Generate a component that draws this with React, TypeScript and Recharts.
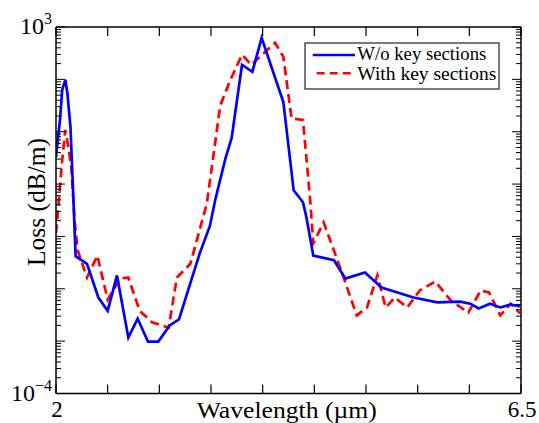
import { LineChart, Line, XAxis, YAxis } from 'recharts';

// wavelength (um) / loss (dB/m)
const blueX = [2.0, 2.04, 2.06, 2.09, 2.11, 2.14, 2.17, 2.19, 2.3, 2.41, 2.5, 2.59, 2.7, 2.79, 2.89, 2.99, 3.1, 3.19, 3.39, 3.49, 3.54, 3.64, 3.7, 3.8, 3.9, 3.99, 4.2, 4.3, 4.39, 4.42, 4.49, 4.69, 4.8, 4.99, 5.15, 5.46, 5.69, 5.91, 6.01, 6.09, 6.2, 6.3, 6.4, 6.49];
const blueY = [3.3, 18, 63, 98, 55, 12.3, 0.43, 0.042, 0.03, 0.0068, 0.0038, 0.018, 0.00117, 0.0027, 0.00098, 0.00098, 0.002, 0.0026, 0.047, 0.16, 0.49, 3.1, 7.6, 190, 139, 620, 37, 0.76, 0.45, 0.25, 0.043, 0.035, 0.0157, 0.0205, 0.0106, 0.0068, 0.0055, 0.0057, 0.0052, 0.0042, 0.0052, 0.0044, 0.005, 0.0046];

const redX = [2.0, 2.02, 2.06, 2.09, 2.12, 2.15, 2.18, 2.21, 2.3, 2.4, 2.5, 2.62, 2.7, 2.81, 2.93, 3.09, 3.17, 3.3, 3.46, 3.59, 3.68, 3.8, 3.89, 4.12, 4.2, 4.28, 4.39, 4.46, 4.49, 4.59, 4.77, 4.91, 5.01, 5.11, 5.19, 5.28, 5.4, 5.52, 5.67, 5.82, 5.99, 6.11, 6.19, 6.3, 6.4, 6.49];
const redY = [0.115, 0.32, 2.9, 10.8, 5.1, 1.85, 0.2, 0.054, 0.0164, 0.043, 0.0062, 0.0157, 0.0164, 0.0038, 0.0023, 0.0018, 0.0164, 0.03, 0.43, 32, 90, 295, 190, 500, 270, 18, 16.8, 0.49, 0.074, 0.186, 0.0196, 0.0031, 0.0044, 0.018, 0.0044, 0.0068, 0.0044, 0.0093, 0.0138, 0.006, 0.0035, 0.0093, 0.0085, 0.0031, 0.0052, 0.0034];

const xTicks = [2, 2.5, 3, 3.5, 4, 4.5, 5, 5.5, 6, 6.5];
const xTickLabels: Record<string, string> = { '2': '2', '6.5': '6.5' };
const yDecades = [1e-4, 1e-3, 1e-2, 1e-1, 1, 10, 100, 1000];
const yMinorSteps = [2, 3, 4, 5, 6, 7, 8, 9];
const yTickExponents: Record<string, string> = { '0.0001': '\u22124', '1000': '3' };

const seriesNames = ['W/o key sections', 'With key sections'];

const blueData = blueX.map((x, i) => ({ x, y: blueY[i] }));
const redData = redX.map((x, i) => ({ x, y: redY[i] }));
const yTicks = [
  ...yDecades,
  ...yDecades.slice(0, -1).flatMap((d) => yMinorSteps.map((m) => d * m)),
];

const FONT = 'Liberation Serif, Times New Roman, DejaVu Serif, serif';
const textStyle = { fontFamily: FONT };

function isDecade(v: number) {
  const l = Math.log10(v);
  return Math.abs(l - Math.round(l)) < 1e-6;
}

function BottomTick({ x, y, payload }: any) {
  const label = xTickLabels[String(payload.value)];
  return (
    <g>
      <line x1={x} y1={y} x2={x} y2={y - 9} stroke="#000" strokeWidth={1.2} />
      {label && (
        <text x={x + 1} y={y + 23.5} textAnchor="middle" style={textStyle} fontSize={23} fill="#000">
          {label}
        </text>
      )}
    </g>
  );
}

function TopTick({ x, y }: any) {
  return <line x1={x} y1={y} x2={x} y2={y + 9} stroke="#000" strokeWidth={1.2} />;
}

function LeftTick({ x, y, payload }: any) {
  const v = payload.value as number;
  const major = isDecade(v);
  const exp = yTickExponents[String(v)];
  return (
    <g>
      <line x1={x} y1={y} x2={x + (major ? 9 : 5)} y2={y} stroke="#000" strokeWidth={1} />
      {exp && (
        <text x={x - 4} y={y + 7} textAnchor="end" style={textStyle} fontSize={24} fill="#000">
          10
          <tspan fontSize={16} dy={-10}>
            {exp}
          </tspan>
        </text>
      )}
    </g>
  );
}

function RightTick({ x, y, payload }: any) {
  const major = isDecade(payload.value);
  return <line x1={x} y1={y} x2={x - (major ? 9 : 5)} y2={y} stroke="#000" strokeWidth={1} />;
}

export default function App() {
  const axisLine = { stroke: '#000', strokeWidth: 1.5 };
  return (
    <div
      style={{
        position: 'absolute',
        left: 0,
        top: 0,
        width: 539,
        height: 423,
        background: '#fff',
        fontFamily: FONT,
      }}
    >
      <LineChart width={539} height={423} margin={{ top: 26, right: 17, bottom: 28.5, left: 55 }}>
        <XAxis
          xAxisId="b"
          dataKey="x"
          type="number"
          domain={[2, 6.5]}
          ticks={xTicks}
          interval={0}
          height={1}
          tickSize={0}
          tickMargin={0}
          tickLine={false}
          axisLine={axisLine}
          tick={<BottomTick />}
          allowDataOverflow
        />
        <XAxis
          xAxisId="t"
          orientation="top"
          dataKey="x"
          type="number"
          domain={[2, 6.5]}
          ticks={xTicks}
          interval={0}
          height={1}
          tickSize={0}
          tickMargin={0}
          tickLine={false}
          axisLine={axisLine}
          tick={<TopTick />}
          allowDataOverflow
        />
        <YAxis
          yAxisId="l"
          scale="log"
          type="number"
          domain={[1e-4, 1e3]}
          ticks={yTicks}
          interval={0}
          width={1}
          tickSize={0}
          tickMargin={0}
          tickLine={false}
          axisLine={axisLine}
          tick={<LeftTick />}
          allowDataOverflow
        />
        <YAxis
          yAxisId="r"
          orientation="right"
          scale="log"
          type="number"
          domain={[1e-4, 1e3]}
          ticks={yTicks}
          interval={0}
          width={1}
          tickSize={0}
          tickMargin={0}
          tickLine={false}
          axisLine={axisLine}
          tick={<RightTick />}
          allowDataOverflow
        />
        <Line
          xAxisId="b"
          yAxisId="l"
          data={redData}
          dataKey="y"
          name={seriesNames[1]}
          type="linear"
          stroke="#ff0000"
          strokeWidth={2.7}
          strokeDasharray="9 5"
          dot={false}
          isAnimationActive={false}
        />
        <Line
          xAxisId="b"
          yAxisId="l"
          data={blueData}
          dataKey="y"
          name={seriesNames[0]}
          type="linear"
          stroke="#0000ff"
          strokeWidth={2.7}
          dot={false}
          isAnimationActive={false}
        />
      </LineChart>
      <svg
        width={539}
        height={423}
        style={{ position: 'absolute', left: 0, top: 0, pointerEvents: 'none' }}
      >
        <text
          x={286.7}
          y={418}
          textAnchor="middle"
          style={textStyle}
          fontSize={24}
          fill="#000"
          textLength={180}
          lengthAdjust="spacingAndGlyphs"
        >
          Wavelength (µm)
        </text>
        <text
          x={0}
          y={0}
          transform="translate(45 202) rotate(-90)"
          textAnchor="middle"
          style={textStyle}
          fontSize={25.5}
          fill="#000"
        >
          Loss (dB/m)
        </text>
        <rect x={305} y={43} width={194} height={46} fill="#fff" stroke="#333" strokeWidth={1.3} />
        <line x1={312.7} y1={55} x2={355} y2={55} stroke="#0000ff" strokeWidth={2.5} />
        <line x1={316.7} y1={73.3} x2={355} y2={73.3} stroke="#ff0000" strokeWidth={2.5} strokeDasharray="8 5" />
        <text
          x={357.3}
          y={59.5}
          style={textStyle}
          fontSize={18}
          fill="#000"
          textLength={129}
          lengthAdjust="spacingAndGlyphs"
        >
          {seriesNames[0]}
        </text>
        <text
          x={357.3}
          y={80}
          style={textStyle}
          fontSize={18}
          fill="#000"
          textLength={139}
          lengthAdjust="spacingAndGlyphs"
        >
          {seriesNames[1]}
        </text>
      </svg>
    </div>
  );
}
